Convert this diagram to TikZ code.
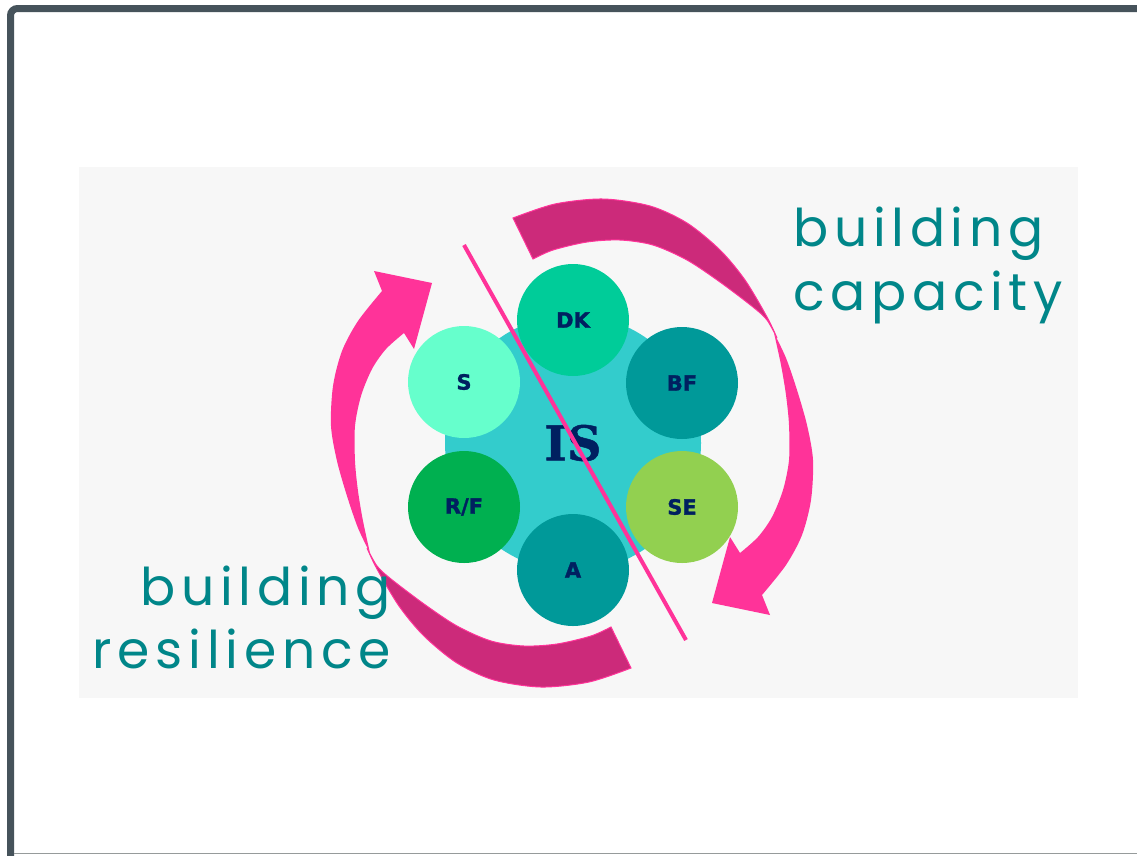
\documentclass[tikz,border=0pt]{standalone}
\usepackage{fontspec}
\setmainfont{Liberation Serif}
\newfontfamily\gothic{Poppins}[LetterSpace=11]
\newfontfamily\heavy{DejaVu Sans}[BoldFeatures={FakeBold=1.5}]
\newfontfamily\slab{DejaVu Serif}[BoldFeatures={FakeBold=1}]

\definecolor{frame}{RGB}{70,83,91}
\definecolor{edge}{RGB}{150,155,155}
\definecolor{panel}{RGB}{247,247,247}
\definecolor{hubcyan}{RGB}{51,204,204}
\definecolor{dkgreen}{RGB}{0,204,153}
\definecolor{mint}{RGB}{102,255,204}
\definecolor{tealdark}{RGB}{0,153,153}
\definecolor{lime}{RGB}{146,208,80}
\definecolor{leaf}{RGB}{0,176,80}
\definecolor{navy}{RGB}{0,32,96}
\definecolor{hotpink}{RGB}{255,51,153}
\definecolor{darkpink}{RGB}{204,42,122}
\definecolor{teal}{RGB}{0,134,137}

% one twisted band arrow, drawn on the right hand side
\newcommand\twistarrow{%
  \filldraw[backface] plot[smooth] coordinates {(513,218) (555,204) (603,199) (650,206) (687,223) (720,250) (745,280) (767,317) (777,338)}
    -- plot[smooth] coordinates {(777,338) (767,320) (753,307) (720,282) (687,260) (653,245) (620,240) (587,242) (553,250) (533,259)} -- cycle;
  \fill[frontface] plot[smooth] coordinates {(774,333) (786,358) (797,390) (807,425) (813,460) (811,500) (802,535) (786,565) (762,595)}
    -- (770,615) -- (712,603) -- (730,537)
    -- plot[smooth] coordinates {(740,553) (758,537) (772,517) (783,490) (789,460) (789,425) (786,395) (781,365) (774,333)} -- cycle;
}

\begin{document}
\begin{tikzpicture}[x=1pt,y=-1pt,
    factor/.style={circle, minimum size=112pt, inner sep=0pt, text=navy,
      font=\heavy\bfseries\fontsize{21}{21}\selectfont},
    caption/.style={text=teal, inner sep=0pt, font=\gothic\fontsize{52}{52}\selectfont},
    backface/.style={fill=darkpink, draw=hotpink, line width=1pt},
    frontface/.style={fill=hotpink}]

\useasboundingbox (0,0) rectangle (1137,855);
\fill[white] (0,0) rectangle (1137,855);
\fill[panel] (79,167) rectangle (1078,698);
\draw[frame, line width=7pt, rounded corners=7pt] (10.5,860) -- (10.5,8.5) -- (1150,8.5);
\draw[edge, line width=1.5pt] (14,853.5) -- (1150,853.5);

% the two arrows
\twistarrow
\begin{scope}[rotate around={180:(572,443)}]
  \twistarrow
\end{scope}

% hub and the six factors
\node [circle, fill=hubcyan, minimum size=256pt, inner sep=0pt, text=navy,
       font=\slab\bfseries\fontsize{48}{48}\selectfont] at (573,443) (hub) {IS};
\node [factor, fill=dkgreen] at (573,320) (dk) {DK};
\node [factor, fill=mint] at (464,382) (s) {S};
\node [factor, fill=tealdark] at (682,383) (bf) {BF};
\node [factor, fill=leaf] at (464,507) (rf) {R/F};
\node [factor, fill=lime] at (682,507) (se) {SE};
\node [factor, fill=tealdark] at (573,570) (a) {A};

% cut line
\coordinate (cut top) at (464,245);
\coordinate (cut bottom) at (686,640);
\draw[hotpink, line width=4pt] (cut top) -- (cut bottom);

% captions
\node [caption, anchor=base west] at (793,246) (cap one) {building};
\node [caption, anchor=base west] at (793,310) (cap two) {capacity};
\node [caption, anchor=base east] at (391,605) (res one) {building};
\node [caption, anchor=base east] at (391,668) (res two) {resilience};

\end{tikzpicture}
\end{document}
